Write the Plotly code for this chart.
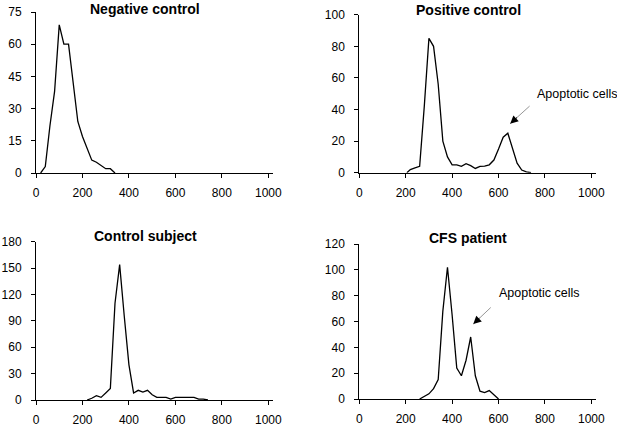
import plotly.graph_objects as go

# Negative control
neg_x = [20, 40, 60, 80, 100, 120, 140, 160, 180, 200, 220, 240, 260, 280, 300, 320, 340]
neg_y = [0, 3, 22, 38, 69, 60, 60, 42, 24, 17, 11, 6, 5, 3.5, 2, 2, 0]

# Positive control
pos_x = [205, 220, 240, 260, 280, 300, 320, 340, 360, 380, 400, 420, 440, 460, 480, 500,
         520, 540, 560, 580, 600, 620, 640, 660, 680, 700, 720, 740]
pos_y = [0, 2, 3, 4, 42, 85, 80, 56, 20, 10, 5, 5, 4, 5.7, 4.5, 2.7, 4, 4.2, 5, 8, 15, 22.5,
         25, 16, 6, 1.7, 0.5, 0]

# Control subject
ctl_x = [220, 240, 260, 280, 300, 320, 340, 360, 380, 400, 420, 440, 460, 480, 500, 520,
         540, 560, 580, 600, 620, 640, 660, 680, 700, 720, 740]
ctl_y = [0, 2, 5, 3, 8, 13, 110, 154, 95, 40, 8, 11, 9, 11, 6, 3, 3, 3, 1, 3, 3, 3, 3, 3,
         1, 1, 0]

# CFS patient
cfs_x = [260, 280, 300, 320, 340, 360, 380, 400, 420, 440, 460, 480, 500, 520, 540, 560,
         580, 600]
cfs_y = [0, 2, 4, 8, 15, 68, 102, 65, 24, 18, 30, 48, 18, 6, 5, 6.5, 3, 0]

titles = ["Negative control", "Positive control", "Control subject", "CFS patient"]
x_ticks = [0, 200, 400, 600, 800, 1000]
y_ranges = [75, 100, 180, 120]
y_dticks = [15, 20, 30, 20]

W, H = 617, 427
# pixel boxes in the screenshot: (left, right, top, bottom)
boxes = [(36, 273, 12, 173), (359.3, 596, 14.7, 172.7), (36, 273, 241.7, 400), (359.3, 596, 244, 399)]
title_y = [8.5, 9.5, 236.5, 238]

series = [(neg_x, neg_y), (pos_x, pos_y), (ctl_x, ctl_y), (cfs_x, cfs_y)]

fig = go.Figure()
font_family = "Liberation Sans, Arial, sans-serif"
layout = dict(
    width=W, height=H, margin=dict(l=0, r=0, t=0, b=0, pad=0),
    paper_bgcolor="white", plot_bgcolor="white", showlegend=False,
    font=dict(family=font_family, size=12, color="black"),
)
annotations = []
for i, ((xs, ys), (l, r, t, b)) in enumerate(zip(series, boxes)):
    n = "" if i == 0 else str(i + 1)
    fig.add_trace(go.Scatter(x=xs, y=ys, mode="lines", line=dict(color="black", width=1.3),
                             xaxis="x" + n, yaxis="y" + n, hoverinfo="skip"))
    layout["xaxis" + n] = dict(
        domain=[l / W, r / W], anchor="y" + n, range=[0, 1020], tickvals=x_ticks,
        showline=True, linecolor="black", linewidth=1, ticks="outside", ticklen=4,
        tickcolor="black", showgrid=False, zeroline=False, ticklabelstandoff=5,
        tickfont=dict(size=12), automargin=False,
    )
    layout["yaxis" + n] = dict(
        domain=[1 - b / H, 1 - t / H], anchor="x" + n, range=[0, y_ranges[i]],
        dtick=y_dticks[i], tick0=0,
        showline=True, linecolor="black", linewidth=1, ticks="outside", ticklen=4,
        tickcolor="black", showgrid=False, zeroline=False, ticklabelstandoff=7,
        tickfont=dict(size=12), automargin=False,
    )
    annotations.append(dict(
        text="<b>" + titles[i] + "</b>", xref="x" + n + " domain", yref="paper",
        x=0.46, y=1 - title_y[i] / H, showarrow=False, xanchor="center",
        yanchor="middle", font=dict(size=14),
    ))

# Apoptotic cell annotations: (axis suffix, head x, head y, tail dx, tail dy, text x, text y)
apop = [("2", 650, 31, 21, -19, 755, 50), ("4", 491, 58, 19, -18, 594, 82)]
for n, hx, hy, dx, dy, tx, ty in apop:
    annotations.append(dict(x=hx, y=hy, xref="x" + n, yref="y" + n, ax=dx, ay=dy,
                            axref="pixel", ayref="pixel", text="", showarrow=True,
                            arrowhead=0, arrowwidth=0.9, arrowcolor="#8a8a8a"))
    annotations.append(dict(x=hx, y=hy, xref="x" + n, yref="y" + n, ax=dx * 0.4, ay=dy * 0.4,
                            text="", showarrow=True, arrowhead=2, arrowsize=1.6,
                            arrowwidth=1, arrowcolor="black"))
    annotations.append(dict(x=tx, y=ty, xref="x" + n, yref="y" + n, text="Apoptotic cells",
                            showarrow=False, xanchor="left", yanchor="middle",
                            font=dict(size=12.5)))

layout["annotations"] = annotations
fig.update_layout(**layout)
fig.write_html("out.html", config={"displayModeBar": False},
               post_script="document.body.style.margin='0';")
